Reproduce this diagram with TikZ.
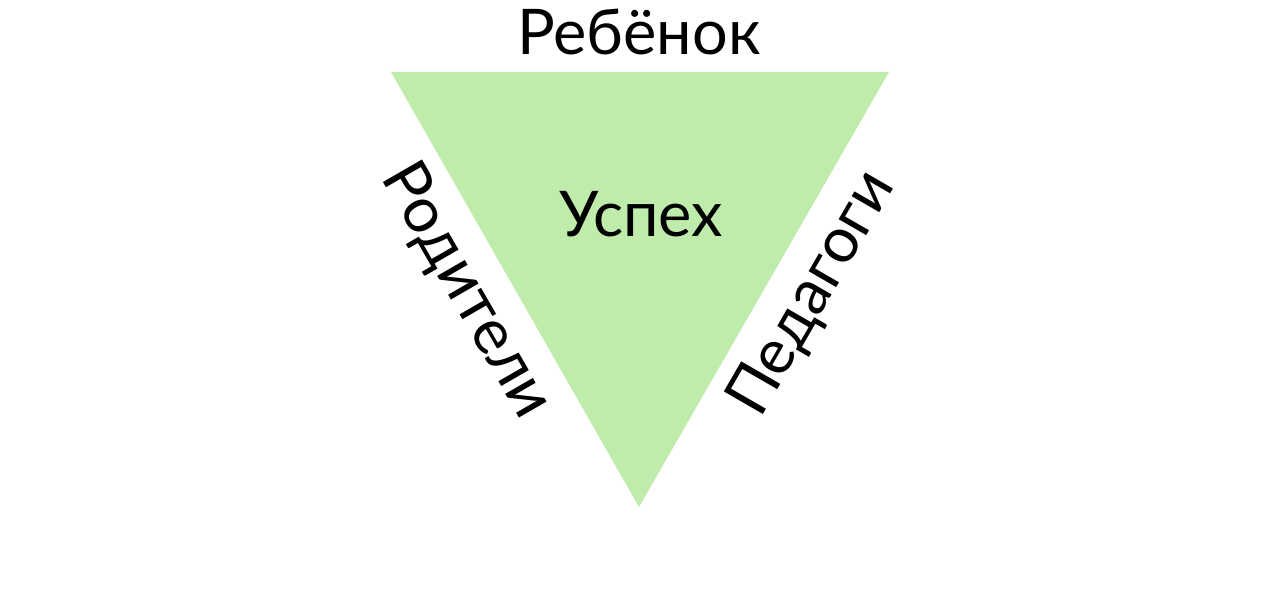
\documentclass[tikz,border=0pt]{standalone}
\usepackage{fontspec}
\setmainfont{Lato}
\definecolor{tri}{RGB}{191,235,171}
\begin{document}
\begin{tikzpicture}[x=1pt,y=-1pt,
  lbl/.style={font=\fontsize{63}{63}\selectfont, inner sep=0pt, text=black}]
\useasboundingbox (0,0) rectangle (1280,612);
\coordinate (tl) at (391,72);
\coordinate (tr) at (889,72);
\coordinate (bt) at (639,507);
\fill[tri] (tl) -- (tr) -- (bt) -- cycle;
\node[lbl, anchor=base] (child) at (639,55) {Ребёнок};
\node[lbl, anchor=base] (succ) at (641,237) {Успех};
\node[lbl, rotate=-60] (par) at (466,291) {Родители};
\node[lbl, rotate=60] (ped) at (813,294) {Педагоги};
\end{tikzpicture}
\end{document}
